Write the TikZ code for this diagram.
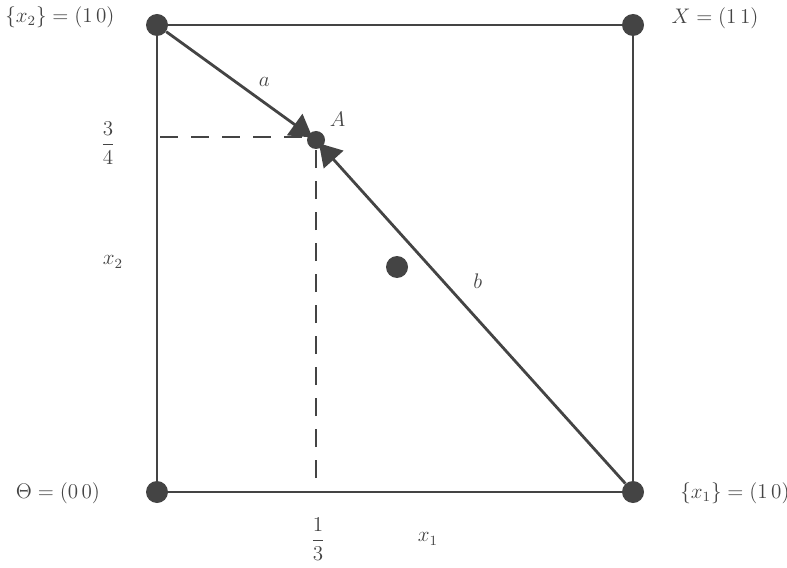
\documentclass[tikz,border=0pt]{standalone}
\usepackage{amsmath}
\usepackage{amssymb}
\usepackage{xcolor}
\usepackage{tikz}
\usetikzlibrary{arrows.meta, positioning, calc}

\definecolor{inkgray}{HTML}{444444}

\begin{document}
\begin{tikzpicture}[
  corner/.style={circle, fill=inkgray, inner sep=0pt, minimum size=0.44cm},
  pt/.style={circle, fill=inkgray, inner sep=0pt, minimum size=0.36cm},
  edge/.style={draw=inkgray, line width=1.6pt},
  pointer/.style={edge, shorten >=-0.1cm, -{Triangle[length=0.44cm, width=0.52cm]}},
  guide/.style={draw=inkgray, line width=1.4pt, dash pattern=on 0.36cm off 0.26cm},
  label/.style={font=\large, text=inkgray}
]
\useasboundingbox (0,0) rectangle (15.74,11.34);

%% Points
\node[corner] (O) at (3.14, 1.5) {};
\node[corner] (X1) at (12.66, 1.5) {};
\node[corner] (X2) at (3.14, 10.84) {};
\node[corner] (X) at (12.66, 10.84) {};
\node[pt] (A) at (6.32, 8.54) {};
\node[corner] (mid) at (7.94, 6.0) {};

%% Square
\draw[edge] (O) -- (X1) -- (X) -- (X2) -- (O);

%% Segments a and b
\draw[pointer] (X2) -- node[label, pos=0.6, above right]{$a$} (A);
\draw[pointer] (X1) -- node[label, pos=0.6, right=0.45cm]{$b$} (A);

%% Dashed guides
\coordinate (hl) at (3.2, 8.6);
\coordinate (vb) at (6.32, 1.78);
\draw[guide] (hl) -- (hl -| A);
\draw[guide] (vb) -- (A);

%% Labels
\node[label] (lO) at (1.16, 1.48) {$\Theta = (0\,0)$};
\node[label] (lX1) at (14.7, 1.48) {$\{x_1\} = (1\,0)$};
\node[label] (lX2) at (1.2, 11.0) {$\{x_2\} = (1\,0)$};
\node[label] (lX) at (14.3, 10.98) {$X = (1\,1)$};
\node[label, above right=0.02cm and 0.02cm of A] (lA) {$A$};
\node[label] (q34) at (2.16, 8.48) {$\dfrac{3}{4}$};
\node[label] (q13) at (6.36, 0.56) {$\dfrac{1}{3}$};
\node[label] (lx2) at (2.26, 6.1) {$x_2$};
\node[label] (lx1) at (8.56, 0.56) {$x_1$};

\end{tikzpicture}
\end{document}
